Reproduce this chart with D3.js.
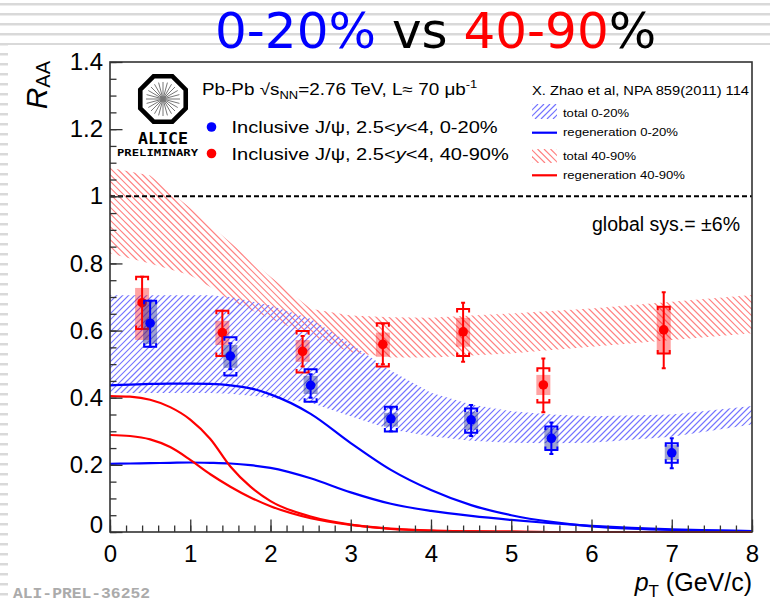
<!DOCTYPE html>
<html>
<head>
<meta charset="utf-8">
<script src="https://cdn.jsdelivr.net/npm/d3@7"></script>
<style>
body { margin: 0; background: #fff; }
svg { display: block; }
text { font-family: "Liberation Sans", Arial, Helvetica, sans-serif; }
</style>
</head>
<body>
<svg id="chart" width="770" height="603"></svg>
<script>
// ---- data ----
var yTicks = [0, 0.2, 0.4, 0.6, 0.8, 1, 1.2, 1.4];
var yTickLabels = ['0', '0.2', '0.4', '0.6', '0.8', '1', '1.2', '1.4'];
var xTicks = [0, 1, 2, 3, 4, 5, 6, 7, 8];
var xTickLabels = ['0', '1', '2', '3', '4', '5', '6', '7', '8'];

// model bands (X. Zhao et al, total)
var bandPt      = [0, 0.5, 1.0, 1.25, 1.5, 2.0, 2.5, 3.0, 3.5, 4.0, 4.5, 5.0, 5.5, 6.0, 7.0, 8.0];
var blueTotalHi = [0.705, 0.705, 0.705, 0.705, 0.70, 0.675, 0.635, 0.56, 0.48, 0.415, 0.38, 0.36, 0.35, 0.345, 0.35, 0.375];
var blueTotalLo = [0.414, 0.414, 0.414, 0.414, 0.412, 0.40, 0.385, 0.345, 0.305, 0.285, 0.272, 0.266, 0.264, 0.266, 0.284, 0.32];
var redTotalHi  = [1.085, 1.062, 0.965, 0.913, 0.862, 0.76, 0.665, 0.645, 0.64, 0.638, 0.645, 0.651, 0.658, 0.666, 0.686, 0.706];
var redTotalLo  = [0.83, 0.80, 0.765, 0.73, 0.69, 0.635, 0.585, 0.535, 0.52, 0.52, 0.526, 0.532, 0.542, 0.552, 0.572, 0.592];

// regeneration curves
var regPt     = [0, 0.25, 0.5, 0.75, 1, 1.25, 1.5, 1.75, 2, 2.5, 3, 3.5, 4, 4.5, 5, 5.5, 6, 6.5, 7, 7.5, 8];
var blueRegHi = [0.437, 0.439, 0.441, 0.442, 0.442, 0.441, 0.437, 0.428, 0.41, 0.352, 0.265, 0.185, 0.125, 0.08, 0.05, 0.03, 0.017, 0.01, 0.006, 0.004, 0.003];
var blueRegLo = [0.203, 0.204, 0.205, 0.206, 0.207, 0.206, 0.204, 0.199, 0.191, 0.16, 0.118, 0.084, 0.063, 0.048, 0.036, 0.026, 0.018, 0.012, 0.008, 0.005, 0.003];
var redRegHi  = [0.405, 0.403, 0.394, 0.372, 0.335, 0.277, 0.195, 0.135, 0.092, 0.046, 0.022, 0.01, 0.004, 0.002, 0.001, 0, 0, 0, 0, 0, 0];
var redRegLo  = [0.289, 0.286, 0.276, 0.253, 0.215, 0.172, 0.135, 0.103, 0.077, 0.041, 0.021, 0.009, 0.004, 0.002, 0.001, 0, 0, 0, 0, 0, 0];

// data 40-90%
var redPt     = [0.4, 1.4, 2.4, 3.4, 4.4, 5.4, 6.9];
var redVal    = [0.683, 0.594, 0.538, 0.559, 0.596, 0.438, 0.602];
var redStatLo = [0.605, 0.524, 0.493, 0.50, 0.507, 0.357, 0.488];
var redStatHi = [0.760, 0.659, 0.584, 0.62, 0.683, 0.517, 0.714];
var redSysLo  = [0.605, 0.524, 0.475, 0.493, 0.524, 0.386, 0.532];
var redSysHi  = [0.760, 0.659, 0.599, 0.622, 0.664, 0.488, 0.671];
var redBoxLo  = [0.572, 0.557, 0.507, 0.522, 0.552, 0.408, 0.530];
var redBoxHi  = [0.727, 0.629, 0.572, 0.594, 0.638, 0.468, 0.673];

// data 0-20%
var bluePt     = [0.5, 1.5, 2.5, 3.5, 4.5, 5.5, 7.0];
var blueVal    = [0.622, 0.524, 0.437, 0.337, 0.334, 0.279, 0.236];
var blueStatLo = [0.552, 0.485, 0.40, 0.30, 0.286, 0.232, 0.190];
var blueStatHi = [0.689, 0.562, 0.47, 0.37, 0.378, 0.326, 0.279];
var blueSysLo  = [0.552, 0.466, 0.388, 0.299, 0.296, 0.244, 0.206];
var blueSysHi  = [0.689, 0.580, 0.485, 0.373, 0.368, 0.314, 0.264];
var blueBoxLo  = [0.56, 0.489, 0.411, 0.314, 0.304, 0.244, 0.214];
var blueBoxHi  = [0.685, 0.557, 0.465, 0.355, 0.358, 0.309, 0.259];

var svg = d3.select('#chart');
var defs = svg.append('defs');

var frame = {l: 110, r: 752, t: 62, b: 532};
var x = d3.scaleLinear().domain([0, 8]).range([frame.l, frame.r]);
var y = d3.scaleLinear().domain([0, 1.4]).range([frame.b, frame.t]);

var blueHatch = '#7373ff', redHatch = '#ff8080';

// slide background stripes
var stripes = defs.append('pattern').attr('id', 'stripes')
    .attr('patternUnits', 'userSpaceOnUse').attr('width', 10).attr('height', 10);
stripes.append('rect').attr('x', 0).attr('y', 3).attr('width', 10).attr('height', 2.5).attr('fill', '#d9d9d9');
svg.append('rect').attr('width', 770).attr('height', 603).attr('fill', 'url(#stripes)');
svg.append('rect').attr('x', 8).attr('y', 45).attr('width', 762).attr('height', 558).attr('fill', '#fff');

// hatching: diagonal lines clipped to a shape
var clipCount = 0;
function hatch(parent, shapeFn, box, dir, step, color) {
  var id = 'hclip' + (clipCount++);
  shapeFn(defs.append('clipPath').attr('id', id));
  var h = box.y1 - box.y0;
  var starts = d3.range(box.x0 - h, box.x1 + h, step);
  parent.append('g').attr('clip-path', 'url(#' + id + ')')
    .selectAll('line').data(starts).enter().append('line')
      .attr('x1', function(s) { return s; })
      .attr('y1', dir > 0 ? box.y1 : box.y0)
      .attr('x2', function(s) { return s + h; })
      .attr('y2', dir > 0 ? box.y0 : box.y1)
      .attr('stroke', color).attr('stroke-width', 1.2);
}
var plotBox = {x0: frame.l, x1: frame.r, y0: frame.t, y1: frame.b};

defs.append('clipPath').attr('id', 'plotClip').append('rect')
    .attr('x', frame.l).attr('y', frame.t).attr('width', frame.r - frame.l).attr('height', frame.b - frame.t + 2);

// title
var title = svg.append('text').attr('x', 215).attr('y', 48)
    .style('font-family', '"DejaVu Sans", Verdana, sans-serif').attr('font-size', 50);
title.append('tspan').attr('fill', '#0000ff').text('0-20%');
title.append('tspan').attr('fill', '#000').text(' vs ');
title.append('tspan').attr('fill', '#ff0000').text('40-90');
title.append('tspan').attr('fill', '#000').text('%');

var plotG = svg.append('g').attr('clip-path', 'url(#plotClip)');

// bands
function band(pts, lo, hi, dir, step, color) {
  var area = d3.area()
      .x(function(d, i) { return x(pts[i]); })
      .y0(function(d, i) { return y(lo[i]); })
      .y1(function(d, i) { return y(hi[i]); });
  hatch(plotG, function(cp) { cp.append('path').attr('d', area(pts)); }, plotBox, dir, step, color);
}
band(bandPt, redTotalLo, redTotalHi, -1, 6.5, redHatch);
band(bandPt, blueTotalLo, blueTotalHi, 1, 6, blueHatch);

// regeneration lines
function curve(pts, vals, color) {
  var line = d3.line()
      .x(function(d, i) { return x(pts[i]); })
      .y(function(d, i) { return y(vals[i]); })
      .curve(d3.curveMonotoneX);
  plotG.append('path').datum(pts).attr('d', line)
      .attr('fill', 'none').attr('stroke', color).attr('stroke-width', 2.2);
}
curve(regPt, blueRegHi, '#0000ff');
curve(regPt, blueRegLo, '#0000ff');
curve(regPt, redRegHi, '#ff0000');
curve(regPt, redRegLo, '#ff0000');

// R_AA = 1
plotG.append('line')
    .attr('x1', x(0)).attr('x2', x(8)).attr('y1', y(1)).attr('y2', y(1))
    .attr('stroke', '#000').attr('stroke-width', 2).attr('stroke-dasharray', '5,3');

// data points
function series(pt, val, statLo, statHi, sysLo, sysHi, boxLo, boxHi, color, boxColor) {
  var idx = d3.range(pt.length);
  var g = plotG.append('g');
  g.selectAll('rect').data(idx).enter().append('rect')
      .attr('x', function(i) { return x(pt[i]) - 7; })
      .attr('width', 14)
      .attr('y', function(i) { return y(boxHi[i]); })
      .attr('height', function(i) { return y(boxLo[i]) - y(boxHi[i]); })
      .attr('fill', boxColor);
  g.selectAll('path.stat').data(idx).enter().append('path')
      .attr('class', 'stat')
      .attr('d', function(i) {
        var cx = x(pt[i]), t = y(statHi[i]), b = y(statLo[i]);
        return 'M' + cx + ',' + t + 'V' + b + 'M' + (cx - 2) + ',' + t + 'H' + (cx + 2) +
               'M' + (cx - 2) + ',' + b + 'H' + (cx + 2);
      })
      .attr('fill', 'none').attr('stroke', color).attr('stroke-width', 2);
  g.selectAll('path.sys').data(idx).enter().append('path')
      .attr('class', 'sys')
      .attr('d', function(i) {
        var cx = x(pt[i]), t = y(sysHi[i]), b = y(sysLo[i]);
        return 'M' + (cx - 6) + ',' + (t + 3.5) + 'V' + t + 'H' + (cx + 6) + 'V' + (t + 3.5) +
               'M' + (cx - 6) + ',' + (b - 3.5) + 'V' + b + 'H' + (cx + 6) + 'V' + (b - 3.5);
      })
      .attr('fill', 'none').attr('stroke', color).attr('stroke-width', 2);
  g.selectAll('circle').data(idx).enter().append('circle')
      .attr('cx', function(i) { return x(pt[i]); })
      .attr('cy', function(i) { return y(val[i]); })
      .attr('r', 4.8)
      .attr('fill', color);
}
series(redPt, redVal, redStatLo, redStatHi, redSysLo, redSysHi, redBoxLo, redBoxHi, '#ff0000', 'rgba(255,0,0,0.36)');
series(bluePt, blueVal, blueStatLo, blueStatHi, blueSysLo, blueSysHi, blueBoxLo, blueBoxHi, '#0000ff', 'rgba(40,50,150,0.45)');

// axes (ROOT style: ticks inside)
var axisCol = '#333';
var yAxis = d3.axisLeft(y).tickValues(yTicks)
    .tickFormat(function(d, i) { return yTickLabels[i]; })
    .tickSize(-12.5).tickSizeOuter(0).tickPadding(7);
var gy = svg.append('g').attr('transform', 'translate(' + frame.l + ',0)').call(yAxis);
gy.select('.domain').remove();
gy.selectAll('line').attr('stroke', axisCol).attr('stroke-width', 1.3);
gy.selectAll('text').attr('font-size', 24).attr('fill', '#000')
    .style('font-family', '"Liberation Sans", Arial, sans-serif');
gy.selectAll('.tick').filter(function(d) { return d === 0; }).select('text').attr('dy', '0em');

var yMinor = d3.axisLeft(y).tickValues(d3.range(0, 1.401, 0.05)).tickSize(-6.5).tickFormat('');
var gym = svg.append('g').attr('transform', 'translate(' + frame.l + ',0)').call(yMinor);
gym.select('.domain').remove();
gym.selectAll('line').attr('stroke', axisCol).attr('stroke-width', 1.3);

var xAxis = d3.axisBottom(x).tickValues(xTicks)
    .tickFormat(function(d, i) { return xTickLabels[i]; })
    .tickSize(-12.5).tickSizeOuter(0).tickPadding(13);
var gx = svg.append('g').attr('transform', 'translate(0,' + frame.b + ')').call(xAxis);
gx.select('.domain').remove();
gx.selectAll('line').attr('stroke', axisCol).attr('stroke-width', 1.3);
gx.selectAll('text').attr('font-size', 24).attr('fill', '#000')
    .style('font-family', '"Liberation Sans", Arial, sans-serif');

var xMinor = d3.axisBottom(x).tickValues(d3.range(0, 8.01, 0.2)).tickSize(-6.5).tickFormat('');
var gxm = svg.append('g').attr('transform', 'translate(0,' + frame.b + ')').call(xMinor);
gxm.select('.domain').remove();
gxm.selectAll('line').attr('stroke', axisCol).attr('stroke-width', 1.3);

svg.append('rect')
    .attr('x', frame.l).attr('y', frame.t)
    .attr('width', frame.r - frame.l).attr('height', frame.b - frame.t)
    .attr('fill', 'none').attr('stroke', axisCol).attr('stroke-width', 1.6);

// axis titles
var yTitle = svg.append('text').attr('transform', 'translate(47,61) rotate(-90)')
    .attr('text-anchor', 'end').attr('fill', '#000');
yTitle.append('tspan').attr('font-size', 30).attr('font-style', 'italic').text('R');
yTitle.append('tspan').attr('font-size', 20).attr('dy', 3).text('AA');

var xTitle = svg.append('text').attr('x', 752).attr('y', 591)
    .attr('text-anchor', 'end').attr('fill', '#000').attr('font-size', 25);
xTitle.append('tspan').attr('font-style', 'italic').text('p');
xTitle.append('tspan').attr('font-size', 17).attr('dy', 6).text('T');
xTitle.append('tspan').attr('dy', -6).text(' (GeV/c)');

// ALICE logo
var logo = svg.append('g').attr('transform', 'translate(163,99)');
var oct = d3.range(8).map(function(k) {
  var a = (22.5 + 45 * k) * Math.PI / 180;
  return [24.6 * Math.cos(a), 24.6 * Math.sin(a)];
});
logo.append('polygon').attr('points', oct.map(function(p) { return p.join(','); }).join(' '))
    .attr('fill', '#fff').attr('stroke', '#000').attr('stroke-width', 4.6);
logo.selectAll('line').data(d3.range(24)).enter().append('line')
    .attr('x1', 0).attr('y1', 0)
    .attr('x2', function(k) { return 17 * Math.cos(k * Math.PI / 12); })
    .attr('y2', function(k) { return 17 * Math.sin(k * Math.PI / 12); })
    .attr('stroke', '#777').attr('stroke-width', 1);
svg.append('text').attr('x', 138).attr('y', 144)
    .attr('textLength', 50).attr('lengthAdjust', 'spacingAndGlyphs')
    .style('font-family', '"DejaVu Sans Mono", "Liberation Mono", monospace')
    .attr('font-weight', 'bold').attr('font-size', 16).text('ALICE');
svg.append('text').attr('x', 117).attr('y', 155.5)
    .attr('textLength', 81).attr('lengthAdjust', 'spacingAndGlyphs')
    .style('font-family', '"DejaVu Sans Mono", "Liberation Mono", monospace')
    .attr('font-weight', 'bold').attr('font-size', 8.5).text('PRELIMINARY');

// left legend (text is horizontally stretched in the original)
function stretched(xp, yp, size) {
  return svg.append('g').attr('transform', 'translate(' + xp + ',' + yp + ') scale(1.18,1)')
      .append('text').attr('x', 0).attr('y', 0).attr('font-size', size).attr('fill', '#000');
}
var pb = stretched(202, 95, 16);
pb.append('tspan').text('Pb-Pb \u221As');
pb.append('tspan').attr('font-size', 11).attr('dy', 4).text('NN');
pb.append('tspan').attr('dy', -4).text('=2.76 TeV, L\u2248 70 \u03bcb');
pb.append('tspan').attr('font-size', 11).attr('dy', -7).text('-1');

var legData = [
  {c: '#0000ff', yp: 133, cent: '0-20%'},
  {c: '#ff0000', yp: 159.5, cent: '40-90%'}
];
legData.forEach(function(d) {
  svg.append('circle').attr('cx', 211.5).attr('cy', d.yp - 6).attr('r', 4.8).attr('fill', d.c);
  var t = stretched(231.5, d.yp, 17);
  t.append('tspan').text('Inclusive J/\u03c8, 2.5<');
  t.append('tspan').attr('font-style', 'italic').text('y');
  t.append('tspan').text('<4, ' + d.cent);
});

// right legend
function fitText(xp, yp, size, len, str) {
  return svg.append('text').attr('x', xp).attr('y', yp).attr('font-size', size)
      .attr('textLength', len).attr('lengthAdjust', 'spacingAndGlyphs').attr('fill', '#000').text(str);
}
function swatch(x0, y0, w, h, dir, step, color) {
  hatch(svg, function(cp) {
    cp.append('rect').attr('x', x0).attr('y', y0).attr('width', w).attr('height', h);
  }, {x0: x0, x1: x0 + w, y0: y0, y1: y0 + h}, dir, step, color);
}
fitText(532, 95, 13, 217, 'X. Zhao et al, NPA 859(2011) 114');
swatch(532, 104, 25, 15, 1, 6, blueHatch);
fitText(563, 117, 11.5, 66, 'total 0-20%');
svg.append('line').attr('x1', 532).attr('x2', 557).attr('y1', 132.7).attr('y2', 132.7)
    .attr('stroke', '#0000ff').attr('stroke-width', 2.2);
fitText(563, 136, 11.5, 115, 'regeneration 0-20%');
swatch(532, 149, 25, 14, -1, 6.5, redHatch);
fitText(563, 159.5, 11.5, 73, 'total 40-90%');
svg.append('line').attr('x1', 532).attr('x2', 557).attr('y1', 175.3).attr('y2', 175.3)
    .attr('stroke', '#ff0000').attr('stroke-width', 2.2);
fitText(563, 178.5, 11.5, 122, 'regeneration 40-90%');

fitText(592, 231, 20, 148, 'global sys.= \u00b16%');

// preliminary id
svg.append('text').attr('x', 13).attr('y', 598)
    .attr('textLength', 137).attr('lengthAdjust', 'spacingAndGlyphs')
    .style('font-family', '"Liberation Mono", "DejaVu Sans Mono", monospace')
    .attr('font-weight', 'bold').attr('font-size', 14).attr('fill', '#ababab')
    .text('ALI-PREL-36252');
</script>
</body>
</html>
